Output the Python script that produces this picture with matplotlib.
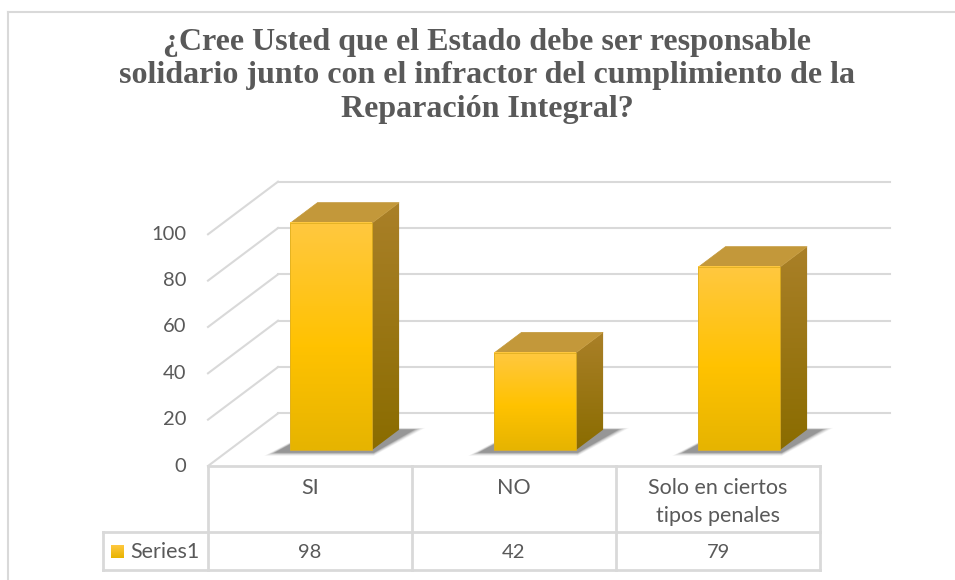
import numpy as np
import matplotlib.pyplot as plt
from matplotlib.patches import Polygon, Rectangle

# == data ==
categories = ['SI', 'NO', 'Solo en ciertos\ntipos penales']
values = [98, 42, 79]
series_name = 'Series1'
yticks = [0, 20, 40, 60, 80, 100]
title = ('¿Cree Usted que el Estado debe ser responsable\n'
         'solidario junto con el infractor del cumplimiento de la\n'
         'Reparación Integral?')

# == layout (pixels) ==
W, H = 955, 580
x_front0, x_front1 = 208, 820      # front edge of floor
y_zero = 466                       # front floor line (value 0)
px_per_unit = 2.317
wall_dx, wall_dy = 70, -52.6       # depth of the 3D box
bar_depth = 0.30                   # where bars start in depth
bar_len = 0.39                     # bar thickness in depth
bar_frac = 0.40                    # bar width / category width

grid_col = '#d9d9d9'
text_col = '#595959'

fig = plt.figure(figsize=(W / 100, H / 100), dpi=100)
ax = fig.add_axes([0, 0, 1, 1])
ax.axis('off')


def yv(v, t=0.0):
    # pixel y of value v at depth fraction t
    return y_zero - v * px_per_unit + t * wall_dy


def grad_img(stops, n=200):
    pos = np.array([s[0] for s in stops])
    cols = np.array([s[1] for s in stops]) / 255.0
    t = np.linspace(0, 1, n)
    img = np.stack([np.interp(t, pos, cols[:, k]) for k in range(3)], axis=1)
    return img[:, None, :]


front_grad = grad_img([(0, (255, 200, 64)), (0.55, (255, 194, 0)), (1, (230, 180, 0))])
side_grad = grad_img([(0, (170, 128, 40)), (1, (138, 108, 0))])

# == walls / gridlines ==
for v in yticks:
    yf = yv(v)
    ax.plot([x_front0, x_front0 + wall_dx], [yf, yf + wall_dy], color=grid_col, lw=1.5, zorder=1)
    ax.plot([x_front0 + wall_dx, x_front1 + wall_dx], [yf + wall_dy] * 2, color=grid_col, lw=1.5, zorder=1)
    ax.text(186, yf, str(v), ha='right', va='center', fontsize=14.5, color=text_col, family='Lato')

# == bars ==
ncat = len(categories)
cat_w = (x_front1 - x_front0) / ncat
for i, v in enumerate(values):
    cx = x_front0 + (i + 0.5) * cat_w + bar_depth * wall_dx
    x0, x1 = cx - bar_frac * cat_w / 2, cx + bar_frac * cat_w / 2
    yb = yv(0, bar_depth)
    yt = yv(v, bar_depth)
    ddx, ddy = bar_len * wall_dx, bar_len * wall_dy

    # shadow
    for k, a in zip(range(6), [0.05, 0.07, 0.09, 0.12, 0.16, 0.22]):
        g = 6 - k
        sh = Polygon([(x0 - 14 - g * 2, yb + 2 + g * 0.6), (x1 + 2, yb + 2 + g * 0.6),
                      (x1 + ddx + 14 + g * 2, yb + ddy - g * 0.3), (x0 + ddx, yb + ddy - g * 0.3)],
                     closed=True, fc='#404040', ec='none', alpha=a, zorder=2)
        ax.add_patch(sh)

    # side face
    side = Polygon([(x1, yb), (x1 + ddx, yb + ddy), (x1 + ddx, yt + ddy), (x1, yt)],
                   closed=True, fc='none', ec='none')
    ax.add_patch(side)
    im = ax.imshow(side_grad, extent=(x1, x1 + ddx, yb, yt + ddy), aspect='auto', zorder=3)
    im.set_clip_path(side)

    # top face
    top = Polygon([(x0, yt), (x1, yt), (x1 + ddx, yt + ddy), (x0 + ddx, yt + ddy)],
                  closed=True, fc='#c3983a', ec='#c3983a', lw=0.5, zorder=3)
    ax.add_patch(top)

    # front face
    ax.imshow(front_grad, extent=(x0, x1, yb, yt), aspect='auto', zorder=4)
    ax.add_patch(Rectangle((x0, yt), x1 - x0, yb - yt, fc='none', ec='#e0b020', lw=0.6, zorder=5))

# == data table ==
y_row1, y_row2 = 532, 570
x_leg = 103
tl = dict(color=grid_col, lw=2, zorder=1, solid_capstyle='projecting')
ax.plot([x_front0, x_front1], [y_zero, y_zero], **tl)
ax.plot([x_leg, x_front1], [y_row1, y_row1], **tl)
ax.plot([x_leg, x_front1], [y_row2, y_row2], **tl)
ax.plot([x_leg, x_leg], [y_row1, y_row2], **tl)
for i in range(ncat + 1):
    xx = x_front0 + i * cat_w
    ax.plot([xx, xx], [y_zero, y_row2], **tl)

for i, (c, v) in enumerate(zip(categories, values)):
    cx = x_front0 + (i + 0.5) * cat_w
    ax.text(cx, 478, c, ha='center', va='top', fontsize=15.5, color=text_col,
            family='Lato', linespacing=1.5)
    ax.text(cx, (y_row1 + y_row2) / 2 + 1, str(v), ha='center', va='center',
            fontsize=14.5, color=text_col, family='Lato')

key = Rectangle((111, 545), 13, 13, fc='none', ec='none')
ax.add_patch(key)
kim = ax.imshow(grad_img([(0, (255, 200, 64)), (1, (232, 180, 0))]),
                extent=(111, 124, 558, 545), aspect='auto', zorder=4)
ax.text(130, (y_row1 + y_row2) / 2 + 1, series_name, ha='left', va='center',
        fontsize=15.5, color=text_col, family='Lato')

# == title ==
ax.text(487, 76, title, ha='center', va='center', fontsize=23, fontweight='bold',
        color=text_col, family='Liberation Serif', linespacing=1.2)

# == chart border ==
ax.plot([8, W], [12, 12], color=grid_col, lw=1.5)
ax.plot([8, 8], [12, H], color=grid_col, lw=1.5)

ax.set_xlim(0, W)
ax.set_ylim(H, 0)
fig.savefig('out.png', dpi=100)
